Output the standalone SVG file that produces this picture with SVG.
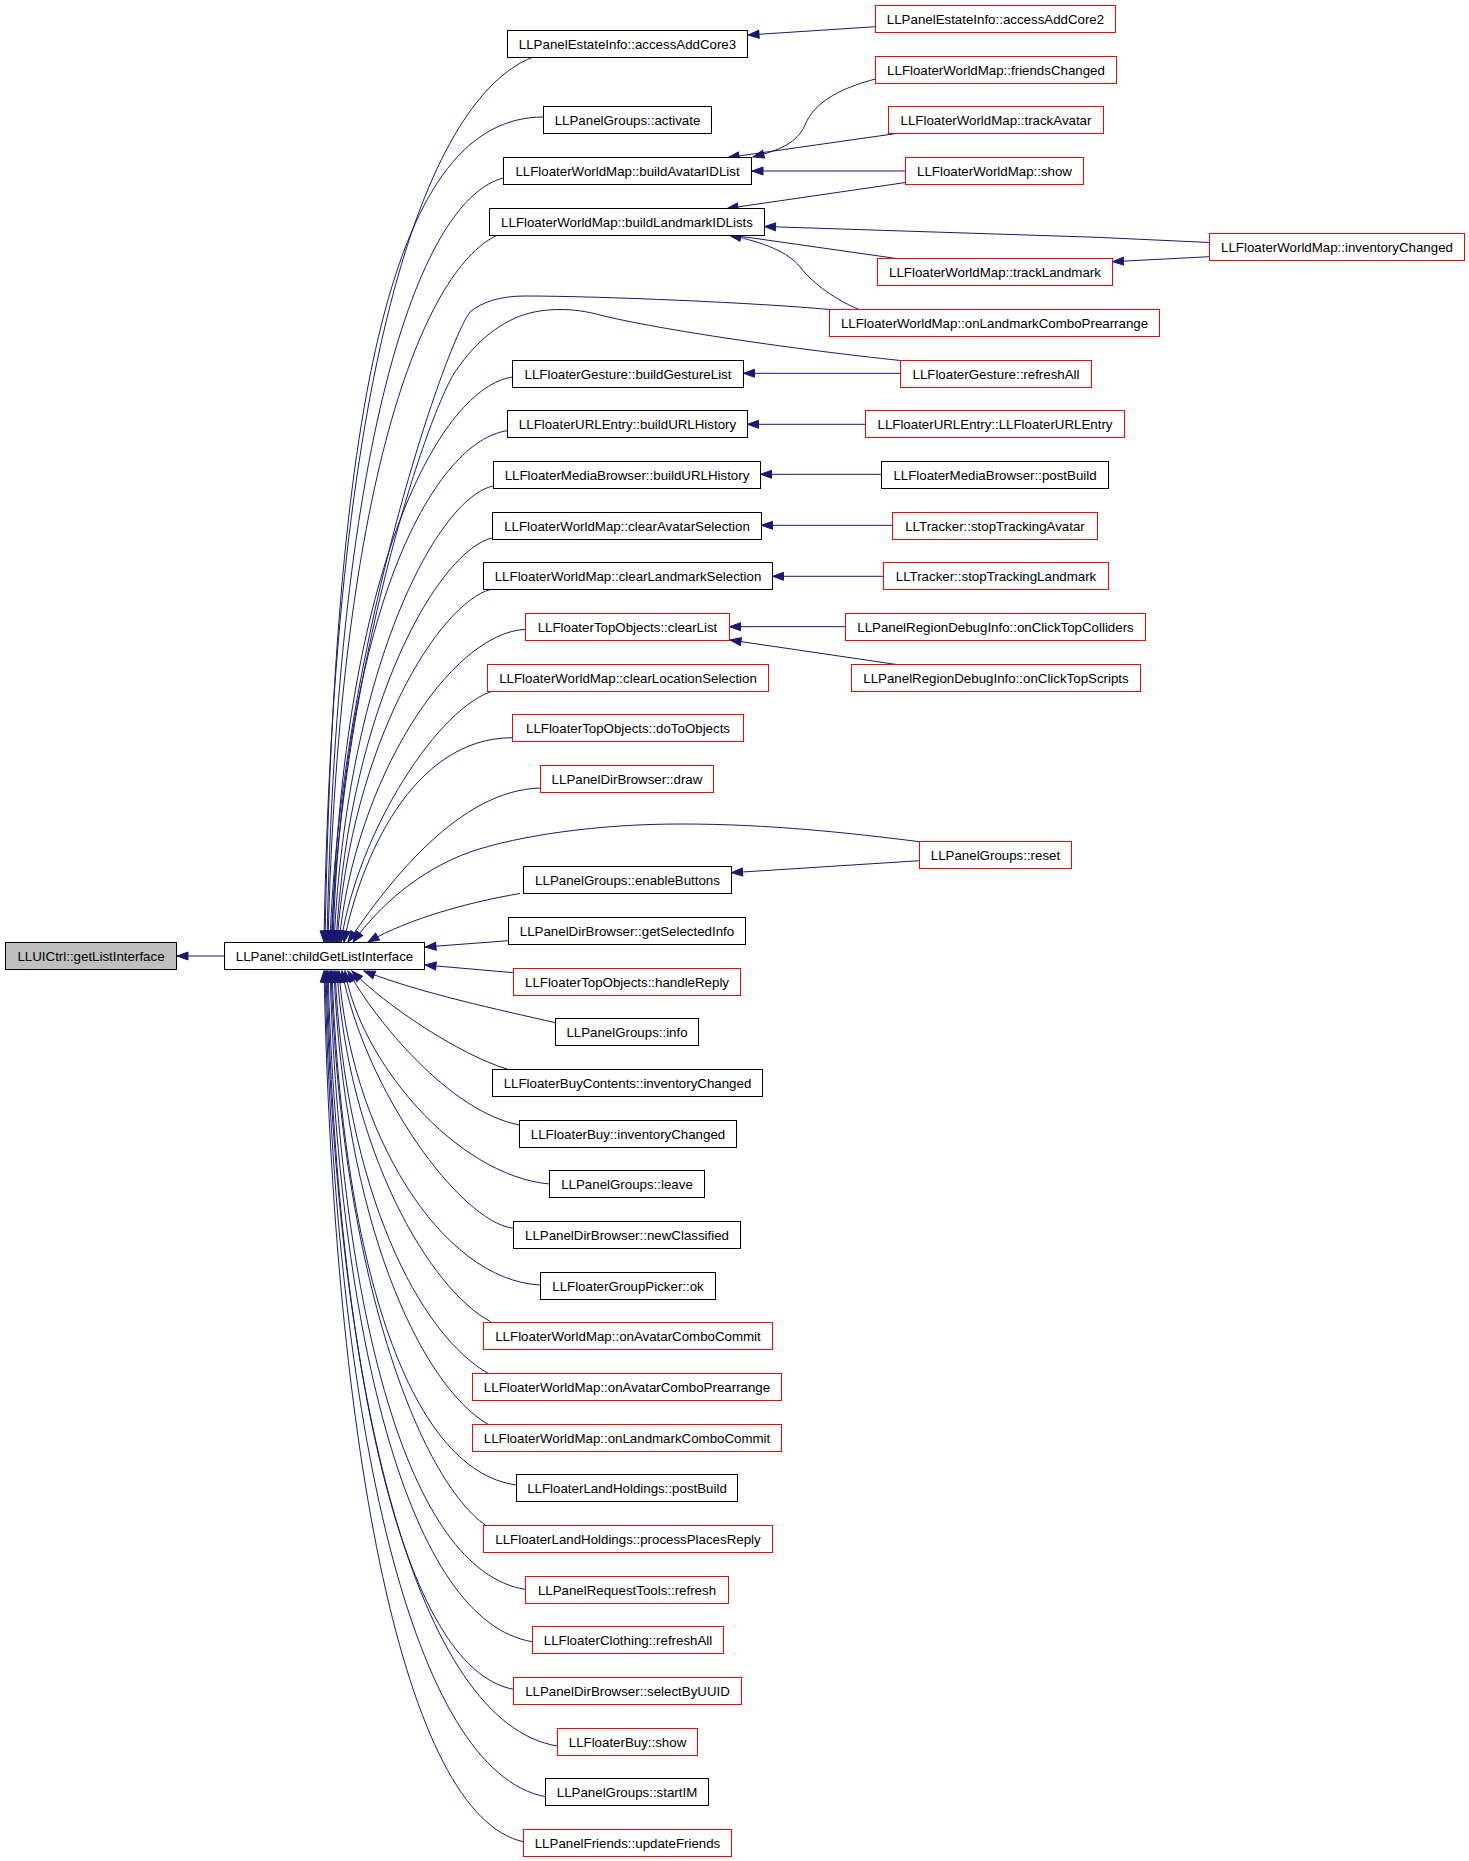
<svg xmlns="http://www.w3.org/2000/svg" width="1469" height="1861" viewBox="0 0 1469 1861">
<defs>
<style>
.b{fill:#fff;stroke:#000;stroke-width:1}
.r{fill:#fff;stroke:#ff0000;stroke-width:1}
.g{fill:#bfbfbf;stroke:#000;stroke-width:1}
text{font-family:"Liberation Sans",Arial,sans-serif;font-size:13.3px;fill:#000;text-anchor:middle}
.e{fill:none;stroke:#191970;stroke-width:1;marker-end:url(#ah)}
</style>
<marker id="ah" markerUnits="userSpaceOnUse" markerWidth="13" markerHeight="10" viewBox="-1 -1 13 10" refX="11" refY="4" orient="auto">
<path d="M0,0 L11,4 L0,8 z" fill="#191970" stroke="#191970" stroke-width="1"/>
</marker>
</defs>
<rect width="1469" height="1861" fill="#fff"/>
<g id="connectors">
<path class="e" d="M224.5,956 L177,956"/>
<path class="e" d="M532,57.5 C432,97.5 334,342 324,942"/>
<path class="e" d="M543.5,117 C393.5,117 335,392 325,942"/>
<path class="e" d="M503.5,178 C423.5,198 337,422 327,942"/>
<path class="e" d="M499,234.5 C429,264 340,462 328,942"/>
<path class="e" d="M829.5,309.5 C760,303 600,296 525,296 C500,296 482,302 470,312 C445,345 340,650 330,942"/>
<path class="e" d="M900.5,360.5 C800,350 660,330 600,315 C575,308 545,307 520,316 C490,328 470,350 455,372 C430,410 345,650 331,942"/>
<path class="e" d="M512.5,377 C442.5,387 342,562 332,942"/>
<path class="e" d="M507.5,430.7 C437.5,440 343,600 333,942"/>
<path class="e" d="M493.5,486 C440,496 348,660 334,942"/>
<path class="e" d="M492.7,537.7 C440,550 350,700 336,942"/>
<path class="e" d="M490.8,589.3 C440,603 352,740 337,942"/>
<path class="e" d="M525.5,629.3 C450,633 355,780 339,942"/>
<path class="e" d="M494.6,690.5 C440,705 358,830 341,942"/>
<path class="e" d="M512.5,737.7 C412,737.7 360,860 344,942"/>
<path class="e" d="M540.3,788 C460,790 390,880 348,942"/>
<path class="e" d="M919.5,841.7 C850,833 770,824 680,824 C600,824 520,835 470,852 C420,870 380,905 353,942"/>
<path class="e" d="M520,893.5 C470,902 410,918 368,942"/>
<path class="e" d="M508.5,940.7 L425,947"/>
<path class="e" d="M513.5,972.7 L425,965"/>
<path class="e" d="M555.4,1022.7 C500,1010 420,993 364,971"/>
<path class="e" d="M507,1069 C460,1055 385,1005 352,971"/>
<path class="e" d="M519.6,1125 C450,1112 375,1020 348,971"/>
<path class="e" d="M549.3,1184 C455,1175 360,1060 345,971"/>
<path class="e" d="M513.4,1228.3 C460,1222 365,1090 342,971"/>
<path class="e" d="M540.3,1285 C440,1280 350,1130 339,971"/>
<path class="e" d="M490.8,1321.7 C430,1290 348,1150 337,971"/>
<path class="e" d="M488.4,1373.5 C420,1335 345,1192 335,971"/>
<path class="e" d="M488.4,1424.5 C420,1385 344,1220 334,971"/>
<path class="e" d="M516.3,1485 C406,1470 342,1254 332,971"/>
<path class="e" d="M486,1525.5 C420,1480 341,1276 331,971"/>
<path class="e" d="M525.2,1589.3 C408,1571 340,1311 330,971"/>
<path class="e" d="M532.3,1641.7 C410,1622 338,1340 328,971"/>
<path class="e" d="M513.4,1689.3 C402,1668 337,1366 327,971"/>
<path class="e" d="M557.3,1746 C418,1723 336,1398 326,971"/>
<path class="e" d="M545.5,1796.7 C413,1772 335,1426 325,971"/>
<path class="e" d="M523.4,1841.7 C404,1816 334,1450 324,971"/>
<path class="e" d="M875.5,26.7 L748,35"/>
<path class="e" d="M875.5,79 C845,87 815,100 805,125 C797,143 780,150 753,157"/>
<path class="e" d="M896.5,133.5 L728,157.5"/>
<path class="e" d="M905.5,171 L752,171"/>
<path class="e" d="M905.5,182.5 L727,208.5"/>
<path class="e" d="M1209.5,242.5 L1097,237.3 L764.5,226.5"/>
<path class="e" d="M1209.5,256.7 L1112.5,261.7"/>
<path class="e" d="M896.5,258.5 L728,234.5"/>
<path class="e" d="M858.8,309.5 C830,297 810,280 799.8,266.7 C788,252 765,243 730,235"/>
<path class="e" d="M900.5,373.3 L743.5,373.3"/>
<path class="e" d="M865.5,424.3 L747.5,424.3"/>
<path class="e" d="M881.5,474.3 L760.5,474.3"/>
<path class="e" d="M892.5,525.3 L761.5,525.3"/>
<path class="e" d="M883.5,576.3 L772.5,576.3"/>
<path class="e" d="M845.5,626.7 L729.5,626.7"/>
<path class="e" d="M896.5,664.5 L730,640"/>
<path class="e" d="M919.5,860.7 L731.5,872.7"/>
</g>
<g id="n0"><rect class="g" x="5.5" y="942.5" width="171" height="27"/><text x="91" y="960.5">LLUICtrl::getListInterface</text></g>
<g id="n1"><rect class="b" x="224.5" y="942.5" width="200" height="27"/><text x="324.5" y="960.5">LLPanel::childGetListInterface</text></g>
<g id="n2"><rect class="b" x="507.5" y="30.5" width="240" height="27"/><text x="627.5" y="48.5">LLPanelEstateInfo::accessAddCore3</text></g>
<g id="n3"><rect class="r" x="875.5" y="5.5" width="240" height="27"/><text x="995.5" y="23.5">LLPanelEstateInfo::accessAddCore2</text></g>
<g id="n4"><rect class="b" x="543.5" y="106.5" width="168" height="27"/><text x="627.5" y="124.5">LLPanelGroups::activate</text></g>
<g id="n5"><rect class="b" x="503.5" y="157.5" width="248" height="27"/><text x="627.5" y="175.5">LLFloaterWorldMap::buildAvatarIDList</text></g>
<g id="n6"><rect class="r" x="875.5" y="56.5" width="241" height="27"/><text x="996" y="74.5">LLFloaterWorldMap::friendsChanged</text></g>
<g id="n7"><rect class="r" x="888.5" y="106.5" width="215" height="27"/><text x="996" y="124.5">LLFloaterWorldMap::trackAvatar</text></g>
<g id="n8"><rect class="r" x="905.5" y="157.5" width="178" height="27"/><text x="994.5" y="175.5">LLFloaterWorldMap::show</text></g>
<g id="n9"><rect class="b" x="489.5" y="208.5" width="275" height="27"/><text x="627" y="226.5">LLFloaterWorldMap::buildLandmarkIDLists</text></g>
<g id="n10"><rect class="r" x="1209.5" y="233.5" width="255" height="27"/><text x="1337" y="251.5">LLFloaterWorldMap::inventoryChanged</text></g>
<g id="n11"><rect class="r" x="877.5" y="258.5" width="235" height="27"/><text x="995" y="276.5">LLFloaterWorldMap::trackLandmark</text></g>
<g id="n12"><rect class="r" x="829.5" y="309.5" width="330" height="27"/><text x="994.5" y="327.5">LLFloaterWorldMap::onLandmarkComboPrearrange</text></g>
<g id="n13"><rect class="b" x="512.5" y="360.5" width="231" height="27"/><text x="628" y="378.5">LLFloaterGesture::buildGestureList</text></g>
<g id="n14"><rect class="r" x="900.5" y="360.5" width="191" height="27"/><text x="996" y="378.5">LLFloaterGesture::refreshAll</text></g>
<g id="n15"><rect class="b" x="507.5" y="410.5" width="240" height="27"/><text x="627.5" y="428.5">LLFloaterURLEntry::buildURLHistory</text></g>
<g id="n16"><rect class="r" x="865.5" y="410.5" width="259" height="27"/><text x="995" y="428.5">LLFloaterURLEntry::LLFloaterURLEntry</text></g>
<g id="n17"><rect class="b" x="493.5" y="461.5" width="267" height="27"/><text x="627" y="479.5">LLFloaterMediaBrowser::buildURLHistory</text></g>
<g id="n18"><rect class="b" x="881.5" y="461.5" width="227" height="27"/><text x="995" y="479.5">LLFloaterMediaBrowser::postBuild</text></g>
<g id="n19"><rect class="b" x="492.5" y="512.5" width="269" height="27"/><text x="627" y="530.5">LLFloaterWorldMap::clearAvatarSelection</text></g>
<g id="n20"><rect class="r" x="892.5" y="512.5" width="205" height="27"/><text x="995" y="530.5">LLTracker::stopTrackingAvatar</text></g>
<g id="n21"><rect class="b" x="483.5" y="562.5" width="289" height="27"/><text x="628" y="580.5">LLFloaterWorldMap::clearLandmarkSelection</text></g>
<g id="n22"><rect class="r" x="883.5" y="562.5" width="225" height="27"/><text x="996" y="580.5">LLTracker::stopTrackingLandmark</text></g>
<g id="n23"><rect class="r" x="525.5" y="613.5" width="204" height="27"/><text x="627.5" y="631.5">LLFloaterTopObjects::clearList</text></g>
<g id="n24"><rect class="r" x="845.5" y="613.5" width="300" height="27"/><text x="995.5" y="631.5">LLPanelRegionDebugInfo::onClickTopColliders</text></g>
<g id="n25"><rect class="r" x="487.5" y="664.5" width="281" height="27"/><text x="628" y="682.5">LLFloaterWorldMap::clearLocationSelection</text></g>
<g id="n26"><rect class="r" x="851.5" y="664.5" width="289" height="27"/><text x="996" y="682.5">LLPanelRegionDebugInfo::onClickTopScripts</text></g>
<g id="n27"><rect class="r" x="512.5" y="714.5" width="231" height="27"/><text x="628" y="732.5">LLFloaterTopObjects::doToObjects</text></g>
<g id="n28"><rect class="r" x="540.5" y="765.5" width="173" height="27"/><text x="627" y="783.5">LLPanelDirBrowser::draw</text></g>
<g id="n29"><rect class="r" x="919.5" y="841.5" width="152" height="27"/><text x="995.5" y="859.5">LLPanelGroups::reset</text></g>
<g id="n30"><rect class="b" x="523.5" y="866.5" width="208" height="27"/><text x="627.5" y="884.5">LLPanelGroups::enableButtons</text></g>
<g id="n31"><rect class="b" x="508.5" y="917.5" width="237" height="27"/><text x="627" y="935.5">LLPanelDirBrowser::getSelectedInfo</text></g>
<g id="n32"><rect class="r" x="513.5" y="968.5" width="227" height="27"/><text x="627" y="986.5">LLFloaterTopObjects::handleReply</text></g>
<g id="n33"><rect class="b" x="555.5" y="1018.5" width="143" height="27"/><text x="627" y="1036.5">LLPanelGroups::info</text></g>
<g id="n34"><rect class="b" x="492.5" y="1069.5" width="270" height="27"/><text x="627.5" y="1087.5">LLFloaterBuyContents::inventoryChanged</text></g>
<g id="n35"><rect class="b" x="519.5" y="1120.5" width="217" height="27"/><text x="628" y="1138.5">LLFloaterBuy::inventoryChanged</text></g>
<g id="n36"><rect class="b" x="549.5" y="1170.5" width="155" height="27"/><text x="627" y="1188.5">LLPanelGroups::leave</text></g>
<g id="n37"><rect class="b" x="513.5" y="1221.5" width="227" height="27"/><text x="627" y="1239.5">LLPanelDirBrowser::newClassified</text></g>
<g id="n38"><rect class="b" x="540.5" y="1272.5" width="175" height="27"/><text x="628" y="1290.5">LLFloaterGroupPicker::ok</text></g>
<g id="n39"><rect class="r" x="483.5" y="1322.5" width="289" height="27"/><text x="628" y="1340.5">LLFloaterWorldMap::onAvatarComboCommit</text></g>
<g id="n40"><rect class="r" x="472.5" y="1373.5" width="309" height="27"/><text x="627" y="1391.5">LLFloaterWorldMap::onAvatarComboPrearrange</text></g>
<g id="n41"><rect class="r" x="472.5" y="1424.5" width="309" height="27"/><text x="627" y="1442.5">LLFloaterWorldMap::onLandmarkComboCommit</text></g>
<g id="n42"><rect class="b" x="516.5" y="1474.5" width="221" height="27"/><text x="627" y="1492.5">LLFloaterLandHoldings::postBuild</text></g>
<g id="n43"><rect class="r" x="483.5" y="1525.5" width="289" height="27"/><text x="628" y="1543.5">LLFloaterLandHoldings::processPlacesReply</text></g>
<g id="n44"><rect class="r" x="525.5" y="1576.5" width="203" height="27"/><text x="627" y="1594.5">LLPanelRequestTools::refresh</text></g>
<g id="n45"><rect class="r" x="532.5" y="1626.5" width="191" height="27"/><text x="628" y="1644.5">LLFloaterClothing::refreshAll</text></g>
<g id="n46"><rect class="r" x="513.5" y="1677.5" width="228" height="27"/><text x="627.5" y="1695.5">LLPanelDirBrowser::selectByUUID</text></g>
<g id="n47"><rect class="r" x="557.5" y="1728.5" width="140" height="27"/><text x="627.5" y="1746.5">LLFloaterBuy::show</text></g>
<g id="n48"><rect class="b" x="545.5" y="1778.5" width="163" height="27"/><text x="627" y="1796.5">LLPanelGroups::startIM</text></g>
<g id="n49"><rect class="r" x="523.5" y="1829.5" width="208" height="27"/><text x="627.5" y="1847.5">LLPanelFriends::updateFriends</text></g>
</svg>
